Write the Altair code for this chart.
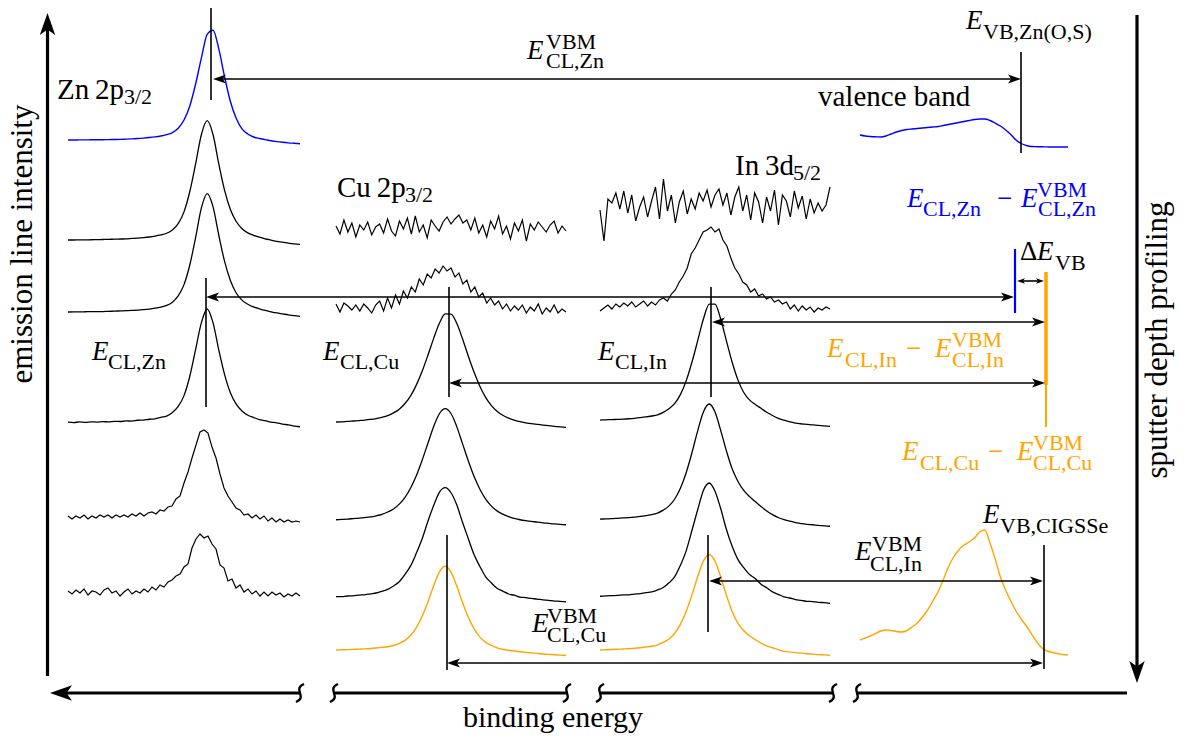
import altair as alt
import pandas as pd

W, H = 1186, 740
BLACK, BLUE, ORANGE = "#000000", "#0000ff", "#ffa500"
FONT = "Liberation Serif"

# ---------------- spectra: intensity (a.u.) ----------------
# Zn 2p3/2 column (top = Zn(O,S) surface, blue)
zn_blue = [0.6, 0.6, 0.7, 0.7, 0.8, 0.8, 0.9, 1.0, 1.1, 1.2, 1.4, 1.6, 1.9, 2.3, 2.8, 3.4, 4.2, 5.4, 7.3, 11.2,
           18.5, 31, 50.6, 74, 95, 98.6, 82, 57, 35, 20, 10.5, 6, 3.3, 2.0, 1.0, 0.0, -0.8, -1.4, -1.9, -2.3, -2.7]
zn_2 = [0.6, 0.6, 0.7, 0.7, 0.8, 0.9, 1.0, 1.1, 1.3, 1.4, 1.6, 1.9, 2.2, 2.6, 3.1, 3.8, 4.8, 6.2, 9, 14.3, 24, 41,
        64, 88.5, 100, 88.5, 64, 42, 26, 16, 10, 6.5, 4.5, 3, 1.5, 0.5, -0.5, -1.2, -2, -2.6, -3]
zn_3 = [0.5, 0.6, 0.6, 0.7, 0.8, 0.8, 0.9, 1.1, 1.2, 1.4, 1.6, 1.8, 2.1, 2.5, 3.0, 3.7, 4.6, 6.0, 8.8, 14, 23.5, 40,
        63, 88, 100, 89, 65, 43, 27, 16.5, 10.5, 7, 4.8, 3.2, 1.8, 0.7, -0.3, -1.1, -1.9, -2.6, -3.2]
zn_4 = [0.8, 0.4, 0.9, 0.6, 1.0, 0.8, 1.2, 1.0, 1.5, 1.3, 1.8, 1.7, 2.4, 2.5, 3.3, 3.7, 5.0, 6.1, 9.2, 14.5, 24, 41,
        64.5, 88, 100, 88, 64, 42.5, 26.5, 16.5, 10.5, 6.8, 4.8, 3.0, 2.0, 0.8, 0.2, -1, -1.6, -2.8, -3.3]
zn_5 = [2, -1, 2, 0, 3, -1, 2, 0, 3, 1, 3, 0, 3, 1, 3, 1, 4, 2, 5, 2, 5, 6, 4, 8, 7, 11, 12, 19, 22, 35, 46, 60,
        73, 86, 88, 85, 71, 60, 44, 30, 22, 16, 10, 8, 3, 4, 0, 3, -1, 2, -3, 0, -4, -1, -4, -2, -4, -3, -4]
zn_6 = [2, -1, 3, 0, 4, -2, 2, 1, -2, 3, 5, 0, 2, -3, 1, 4, -1, 2, 0, 4, 1, 6, 3, 8, 6, 11, 13, 17, 19, 26, 29, 45,
        54, 59, 55, 57, 49, 44, 28, 25, 12, 14, 5, 8, 1, 4, -1, 2, -3, 1, -3, 1, -2, 0, -4, -1, -3, 0, -3]

# Cu 2p3/2 column
cu_1 = [2, -6, 8, -4, 5, -9, 3, -2, 6, -7, 1, 4, -5, 9, -3, -8, 7, -1, 10, -6, 12, -4, 3, -10, 8, 2, -3, 6, 11, 4,
        9, 13, 5, 8, -2, 10, -5, 3, -9, 7, -1, 12, -6, 2, -11, 5, -3, 8, -13, 4, -2, 6, 1, -4, 3, 7, -5, 2, -3]
cu_2 = [3, -5, 4, 1, -3, 2, -4, 3, -1, -6, 2, 6, -4, 9, -1, 12, 3, 16, 9, 20, 15, 28, 22, 33, 29, 38, 34, 41, 36,
        39, 30, 34, 23, 27, 15, 20, 10, 14, 4, 9, 2, 6, -2, 3, -4, 1, -3, 2, -6, 0, -4, 3, -7, -1, -5, 2, -6, -2, -5]
cu_3 = [2.4, 2.6, 2.9, 3.3, 3.7, 4.1, 4.7, 5.5, 6.6, 8.1, 10.5, 13.9, 18.9, 26, 35.8, 48, 62.2, 77.3, 90.8, 98.9,
        98.8, 90.5, 76.7, 61.4, 47, 34.6, 24.6, 17.2, 12, 8.4, 5.8, 4.1, 2.7, 1.7, 0.9, 0.3, -0.3, -0.9, -1.5,
        -1.9, -2.3]
cu_4 = [2.5, 2.8, 3.1, 3.5, 3.9, 4.4, 5, 6, 7.3, 9.3, 12, 16.2, 22.2, 30.6, 41.5, 55, 69.8, 84.5, 95.7, 100, 95.7,
        84.2, 69.3, 54.3, 40.6, 29.5, 20.9, 14.7, 10.3, 7.4, 5.2, 3.7, 2.5, 1.7, 1.1, 0.4, -0.2, -0.7, -1.2, -1.6,
        -1.9]
cu_5 = [2.6, 2.7, 3.2, 3.4, 4.0, 4.3, 5.1, 5.9, 7.4, 9.2, 12.2, 16, 22.5, 30.3, 41.8, 54.6, 70.2, 84.2, 96, 100,
        95.4, 84.6, 69, 54.6, 40.2, 29.8, 20.6, 15, 10.1, 7.6, 5.0, 3.9, 2.3, 1.8, 1.0, 0.5, -0.3, -0.6, -1.3,
        -1.5, -2.0]
cu_6 = [1.6, 1.8, 2.0, 2.3, 2.6, 2.9, 3.3, 3.9, 4.6, 5.4, 6.8, 9.3, 12.9, 18.8, 28.2, 41.5, 58.5, 77.3, 93.4, 100,
        93.1, 76.7, 57.6, 40.3, 26.7, 17, 10.8, 6.9, 4.1, 2.4, 1.3, 0.3, -0.6, -1.3, -1.9, -2.5, -3.1, -3.6, -4.1,
        -4.5, -4.9]

# In 3d5/2 column
in_1 = [-5, -36, 6, 2, 12, -4, 14, -8, 10, -16, -2, 8, -12, 4, 18, -14, 26, -6, 10, -18, 3, 14, -9, 6, -4, 12, 4,
        15, -2, 10, 16, 0, 12, -10, 8, 18, -6, 10, -15, 12, 3, -18, 8, -6, 15, -20, 10, 4, -12, 14, -3, 9, -14, 6,
        -8, 2, -6, 0, 18]
in_2 = [-5, -2, 1, -3, 2, -1, 3, 0, 4, -1, 2, 5, 0, 4, 1, 6, 8, 5, 12, 16, 24, 30, 38, 52, 58, 66, 74, 76, 79, 74,
        77, 66, 60, 48, 38, 32, 24, 21, 14, 17, 10, 12, 7, 9, 4, 6, 2, 4, -3, 1, -5, 0, -4, -1, -6, -2, -4, -1, -3]
in_3 = [1.6, 1.8, 2.0, 2.2, 2.4, 2.7, 3.1, 3.6, 4.2, 5, 6, 8, 11, 15.5, 23, 34.5, 50, 68, 86, 98.3, 98.2, 85.6,
        67.4, 49.6, 34.9, 24.6, 18.4, 14.6, 11.4, 8.1, 5.4, 3.1, 1.5, 0.2, -0.9, -1.5, -1.9, -2.4, -2.8, -3.3, -3.6]
in_4 = [1.6, 1.8, 2.0, 2.3, 2.6, 2.9, 3.3, 3.9, 4.6, 5.4, 6.8, 9.3, 12.9, 18.8, 28.2, 41.5, 58.5, 77.3, 93.4, 100,
        93.1, 77.2, 59.7, 44.4, 33.8, 26.1, 20.9, 16.6, 12.3, 8.6, 5.5, 3.0, 1.2, -0.2, -1.3, -2.2, -2.8, -3.2,
        -3.7, -4.1, -4.5]
in_5 = [1.5, 1.9, 2.1, 2.2, 2.7, 2.8, 3.4, 3.8, 4.7, 5.3, 7.0, 9.1, 13.2, 18.5, 28.6, 41.2, 58.9, 77.0, 93.7, 100,
        92.8, 77.6, 59.3, 44.8, 33.4, 26.4, 20.5, 16.9, 12.0, 8.9, 5.3, 3.2, 1.0, 0.0, -1.4, -2.0, -2.9, -3.1,
        -3.8, -4.0, -4.6]
in_6 = [1.6, 1.8, 2.0, 2.3, 2.6, 2.9, 3.3, 3.9, 4.6, 5.4, 6.8, 9.3, 12.9, 18.8, 28.2, 41.5, 58.5, 77.3, 93.4, 100,
        93.2, 76.8, 57.8, 41, 29, 21.3, 16.2, 12.3, 8.6, 5.9, 3.9, 1.9, 0.1, -0.6, -1.2, -1.7, -2.3, -2.7, -3.2,
        -3.5, -3.9]

# valence bands
vb_zno = [12, 11, 10.5, 10.2, 10, 11, 13, 15, 16.5, 17.5, 18, 18.5, 19, 19.5, 20, 20.5, 21.5, 22.5, 23.5, 24.5,
          25.5, 26.5, 27.5, 28, 28, 26.5, 24, 21, 17, 12.5, 7, 3.5, 1.5, 0.5, 0.3, 0.2, 0.1, 0, 0, 0, 0]
vb_cigsse = [15, 17, 19, 21.5, 24, 25, 24.5, 23.5, 23, 24.5, 28, 32, 38, 45, 54, 63, 75, 88, 98, 105, 110, 113,
             117, 123, 125, 112, 96, 78, 65, 54, 44, 36, 29, 21, 13, 7, 4, 2.5, 1.5, 0.5, 0]

series = {
    "zn_blue": zn_blue, "zn_2": zn_2, "zn_3": zn_3, "zn_4": zn_4, "zn_5": zn_5, "zn_6": zn_6,
    "cu_1": cu_1, "cu_2": cu_2, "cu_3": cu_3, "cu_4": cu_4, "cu_5": cu_5, "cu_6": cu_6,
    "in_1": in_1, "in_2": in_2, "in_3": in_3, "in_4": in_4, "in_5": in_5, "in_6": in_6,
    "vb_zno": vb_zno, "vb_cigsse": vb_cigsse,
}

# ---------------- layout ----------------
panels = {"Zn": (68, 300), "Cu": (336, 566), "In": (600, 830), "VB": (860, 1068)}
curve_layout = [
    # series, panel, baseline, px per unit, colour, line width, noisy?
    ("zn_blue", "Zn", 140.7, 1.12, BLUE, 1.4, False),
    ("zn_2", "Zn", 240.7, 1.2, BLACK, 1.3, False),
    ("zn_3", "Zn", 312.6, 1.19, BLACK, 1.3, False),
    ("zn_4", "Zn", 423.0, 1.14, BLACK, 1.3, False),
    ("zn_5", "Zn", 518.0, 1.0, BLACK, 1.2, True),
    ("zn_6", "Zn", 593.0, 1.0, BLACK, 1.2, True),
    ("cu_1", "Cu", 228.0, 1.0, BLACK, 1.2, True),
    ("cu_2", "Cu", 307.0, 1.0, BLACK, 1.2, True),
    ("cu_3", "Cu", 424.7, 1.12, BLACK, 1.3, False),
    ("cu_4", "Cu", 522.6, 1.14, BLACK, 1.3, False),
    ("cu_5", "Cu", 599.6, 1.12, BLACK, 1.3, False),
    ("cu_6", "Cu", 651.3, 0.85, ORANGE, 1.4, False),
    ("in_1", "In", 205.0, 1.0, BLACK, 1.2, True),
    ("in_2", "In", 306.0, 1.0, BLACK, 1.2, True),
    ("in_3", "In", 422.0, 1.2, BLACK, 1.3, False),
    ("in_4", "In", 521.0, 1.17, BLACK, 1.3, False),
    ("in_5", "In", 598.0, 1.15, BLACK, 1.3, False),
    ("in_6", "In", 651.5, 0.97, ORANGE, 1.4, False),
    ("vb_zno", "VB", 147.0, 1.0, BLUE, 1.4, False),
    ("vb_cigsse", "VB", 655.0, 1.0, ORANGE, 1.4, False),
]

rows = []
for name, panel, base, k, col, lw, noisy in curve_layout:
    vals = series[name]
    x0, x1 = panels[panel]
    n = len(vals)
    for i, v in enumerate(vals):
        rows.append({"curve": name, "i": i, "x": x0 + (x1 - x0) * i / (n - 1),
                     "y": base - v * k, "color": col, "w": lw, "noisy": noisy})
curve_df = pd.DataFrame(rows)
smooth_df = curve_df[~curve_df["noisy"]].drop(columns="noisy")
noisy_df = curve_df[curve_df["noisy"]].drop(columns="noisy")

# plain lines: x, x2, y, y2, width, colour
segments = [
    (211, 211, 8, 100, 1.6, BLACK), (1021, 1021, 52, 153, 1.6, BLACK),
    (206, 206, 278, 407, 1.6, BLACK), (449, 449, 287, 397, 1.6, BLACK),
    (447, 447, 535, 670, 1.6, BLACK), (711, 711, 287, 397, 1.6, BLACK),
    (708, 708, 535, 632, 1.6, BLACK), (1044, 1044, 545, 669, 1.6, BLACK),
    (1015, 1015, 249, 313, 2.2, BLUE), (1046, 1046, 272, 385, 3.5, ORANGE),
    (1046, 1046, 385, 427, 2.0, ORANGE),
    # frame axes
    (47.5, 47.5, 676, 28, 3.2, BLACK), (1137, 1137, 15, 670, 3.2, BLACK),
    (62, 300, 693, 693, 3.2, BLACK), (334, 567, 693, 693, 3.2, BLACK),
    (600, 833, 693, 693, 3.2, BLACK), (857, 1127, 693, 693, 3.2, BLACK),
]
# double-headed horizontal arrows: left tip, right tip, y, head size
arrows = [
    (213, 1021, 79, 169), (206, 1014, 297, 169), (712, 1045, 322, 169),
    (449, 1045, 383, 169), (709, 1043, 581, 169), (447, 1043, 663, 169),
    (1017, 1044, 281, 64),
]
heads = []
for xl, xr, y, s in arrows:
    cut = 4 if s > 100 else 3
    segments.append((xl + cut, xr - cut, y, y, 1.6, BLACK))
    heads.append((xl, y, 180, s, BLACK))
    heads.append((xr, y, 0, s, BLACK))
heads += [(47.5, 13, 270, 484, BLACK), (1137, 683, 90, 484, BLACK), (50, 693, 180, 484, BLACK)]

seg_df = pd.DataFrame(segments, columns=["x", "x2", "y", "y2", "w", "color"])
head_df = pd.DataFrame(heads, columns=["x", "y", "ang", "size", "color"])
squig_df = pd.DataFrame({"x": [300, 334, 567, 600, 833, 857], "y": [693] * 6})

BIG, SUB, EM = 29, 22, 27
upright = [
    ("Zn\u20092p", 57, 99, BIG, BLACK), ("3/2", 124, 104, SUB, BLACK),
    ("Cu\u20092p", 337, 197, BIG, BLACK), ("3/2", 405, 202, SUB, BLACK),
    ("In\u20093d", 735, 175, BIG, BLACK), ("5/2", 793, 180, SUB, BLACK),
    ("valence band", 818, 106, BIG, BLACK),
    ("\u0394", 1020, 260, EM, BLACK), ("VB", 1055, 270, SUB, BLACK),
    ("VBM", 546, 49, SUB, BLACK), ("CL,Zn", 546, 68, SUB, BLACK),
    ("VB,Zn(O,S)", 983, 39, SUB, BLACK),
    ("CL,Zn", 923, 216, SUB, BLUE), ("\u2212", 997, 207, EM, BLUE),
    ("VBM", 1037, 197, SUB, BLUE), ("CL,Zn", 1038, 216, SUB, BLUE),
    ("CL,In", 845, 367, SUB, ORANGE), ("\u2212", 906, 357, EM, ORANGE),
    ("VBM", 952, 347, SUB, ORANGE), ("CL,In", 952, 367, SUB, ORANGE),
    ("CL,Cu", 920, 470, SUB, ORANGE), ("\u2212", 988, 460, EM, ORANGE),
    ("VBM", 1033, 450, SUB, ORANGE), ("CL,Cu", 1033, 470, SUB, ORANGE),
    ("CL,Zn", 108, 369, SUB, BLACK), ("CL,Cu", 340, 369, SUB, BLACK), ("CL,In", 615, 369, SUB, BLACK),
    ("VB,CIGSSe", 1000, 533, SUB, BLACK),
    ("VBM", 872, 551, SUB, BLACK), ("CL,In", 870, 571, SUB, BLACK),
    ("VBM", 547, 623, SUB, BLACK), ("CL,Cu", 547, 642, SUB, BLACK),
]
italic = [
    (527, 59, BLACK), (966, 29, BLACK), (907, 207, BLUE), (1021, 207, BLUE), (1037, 260, BLACK),
    (827, 357, ORANGE), (935, 357, ORANGE), (902, 460, ORANGE), (1017, 460, ORANGE),
    (92, 360, BLACK), (323, 360, BLACK), (598, 360, BLACK), (983, 523, BLACK), (855, 560, BLACK),
    (532, 632, BLACK),
]
up_df = pd.DataFrame(upright, columns=["t", "x", "y", "s", "c"])
it_df = pd.DataFrame([("E", x, y, EM, c) for x, y, c in italic], columns=["t", "x", "y", "s", "c"])
ctr_df = pd.DataFrame([
    ("binding energy", 553, 727, 30, 0),
    ("emission line intensity", 32, 244, 31, 270),
    ("sputter depth profiling", 1167, 340, 31, 270),
], columns=["t", "x", "y", "s", "a"])

X = alt.X("x:Q", scale=alt.Scale(domain=[0, W], nice=False, zero=False), axis=None)
Y = alt.Y("y:Q", scale=alt.Scale(domain=[0, H], nice=False, zero=False, reverse=True), axis=None)

def curve_layer(df, interp):
    return alt.Chart(df).mark_line(interpolate=interp).encode(
        x=X, y=Y, detail="curve:N", order="i:Q",
        color=alt.Color("color:N", scale=None),
        strokeWidth=alt.StrokeWidth("w:Q", scale=None),
    )

smooth_lines = curve_layer(smooth_df, "monotone")
noisy_lines = curve_layer(noisy_df, "linear")

rules = alt.Chart(seg_df).mark_rule().encode(
    x=X, x2="x2:Q", y=Y, y2="y2:Q",
    color=alt.Color("color:N", scale=None),
    strokeWidth=alt.StrokeWidth("w:Q", scale=None),
)
ARROW = "M0,0 L-2,-0.7 L-1.5,0 L-2,0.7 Z"
arrowheads = alt.Chart(head_df).mark_point(shape=ARROW, filled=True, opacity=1, strokeWidth=0).encode(
    x=X, y=Y, angle=alt.Angle("ang:Q", scale=None), size=alt.Size("size:Q", scale=None),
    color=alt.Color("color:N", scale=None),
)
SQUIG = "M0.45,-1 C-0.9,-0.45 0.9,0.45 -0.45,1"
squiggles = alt.Chart(squig_df).mark_point(
    shape=SQUIG, filled=False, opacity=1, strokeWidth=2.4, size=324, color=BLACK
).encode(x=X, y=Y)

def texts(df, style):
    return alt.Chart(df).mark_text(font=FONT, align="left", baseline="alphabetic", fontStyle=style).encode(
        x=X, y=Y, text="t:N", size=alt.Size("s:Q", scale=None), color=alt.Color("c:N", scale=None))

up_text = texts(up_df, "normal")
it_text = texts(it_df, "italic")
ctr_text = alt.Chart(ctr_df).mark_text(font=FONT, align="center", baseline="alphabetic", color=BLACK).encode(
    x=X, y=Y, text="t:N", size=alt.Size("s:Q", scale=None), angle=alt.Angle("a:Q", scale=None))

chart = alt.layer(smooth_lines, noisy_lines, rules, arrowheads, squiggles, up_text, it_text, ctr_text).properties(
    width=W, height=H, padding=0, autosize=alt.AutoSizeParams(type="none"), background="white"
).configure_view(strokeWidth=0)

chart.save("out.html", embed_options={"renderer": "svg", "actions": False})
